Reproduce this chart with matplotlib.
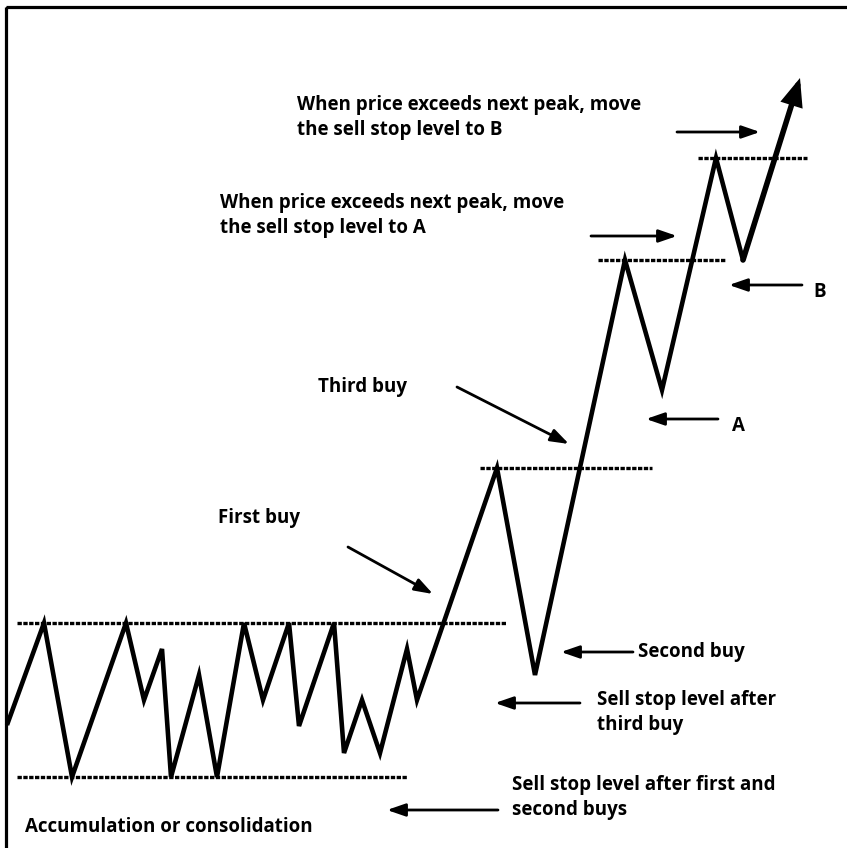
import matplotlib
matplotlib.use("Agg")
import matplotlib.pyplot as plt
from matplotlib.patches import Rectangle

W, H = 847, 848

# Price path (zig-zag), in picture units (x right, y down)
path_x = [7, 44, 72, 126, 144, 162, 171, 199, 217, 244, 263, 289, 299, 334, 344, 362, 380, 407, 417,
          497, 535, 625, 662, 716, 743, 800]
path_y = [725, 623, 777, 623, 700, 649, 777, 675, 777, 623, 700, 623, 726, 623, 753, 700, 753, 649, 700,
          468, 675, 260, 390, 158, 260, 78]

# Dotted support/resistance levels: (y, x_start, x_end)
level_y = [623, 777, 468, 260, 158]
level_x0 = [17, 17, 480, 598, 698]
level_x1 = [507, 407, 652, 725, 807]

# Pointer arrows: (x_from, y_from, x_to, y_to)
arrow_from_x = [348, 457, 718, 633, 580, 498, 802, 591, 677]
arrow_from_y = [547, 387, 419, 652, 703, 810, 285, 236, 132]
arrow_to_x = [433, 569, 646, 561, 495, 387, 729, 677, 760]
arrow_to_y = [594, 444, 419, 652, 703, 810, 285, 236, 132]

# Labels: lines, x, baseline y
labels = [
    ("When price exceeds next peak, move", 297, 110),
    ("the sell stop level to B", 297, 135),
    ("When price exceeds next peak, move", 220, 208),
    ("the sell stop level to A", 220, 233),
    ("Third buy", 318, 392),
    ("First buy", 218, 523),
    ("Second buy", 638, 657),
    ("Sell stop level after", 597, 705),
    ("third buy", 597, 730),
    ("Sell stop level after first and", 512, 790),
    ("second buys", 512, 815),
    ("Accumulation or consolidation", 25, 832),
    ("A", 732, 431),
    ("B", 813, 297),
]

fig = plt.figure(figsize=(W / 100, H / 100), dpi=100)
ax = fig.add_axes([0, 0, 1, 1])
ax.set_xlim(0, W)
ax.set_ylim(H, 0)
ax.axis("off")

# frame (left and top edges visible, cropped at right/bottom)
ax.add_patch(Rectangle((5.5, 6.5), W + 20, H + 20, fill=False, lw=2.3, ec="black"))

# dotted levels
for y, x0, x1 in zip(level_y, level_x0, level_x1):
    ax.plot([x0, x1], [y, y], color="black", lw=2.4, linestyle=(0, (1.3, 0.45)),
            solid_capstyle="butt", dash_capstyle="butt")

# price path (all but the last leg)
ax.plot(path_x[:-1], path_y[:-1], color="black", lw=3.3, solid_joinstyle="miter",
        solid_capstyle="butt")
# final leg with arrow head
ax.annotate("", xy=(path_x[-1], path_y[-1]), xytext=(path_x[-2], path_y[-2]),
            arrowprops=dict(arrowstyle="-|>,head_length=1.1,head_width=0.45",
                            mutation_scale=12, lw=4.0, color="black",
                            shrinkA=0, shrinkB=0, joinstyle="miter"))

# pointer arrows
for fx, fy, tx, ty in zip(arrow_from_x, arrow_from_y, arrow_to_x, arrow_to_y):
    ax.annotate("", xy=(tx, ty), xytext=(fx, fy),
                arrowprops=dict(arrowstyle="-|>,head_length=1.1,head_width=0.38",
                                mutation_scale=10, lw=2.0, color="black",
                                shrinkA=0, shrinkB=0))

for txt, x, y in labels:
    ax.text(x, y, txt, fontsize=13.5, fontweight="bold", family="Open Sans",
            ha="left", va="baseline", color="black")

fig.savefig("out.png", dpi=100)
